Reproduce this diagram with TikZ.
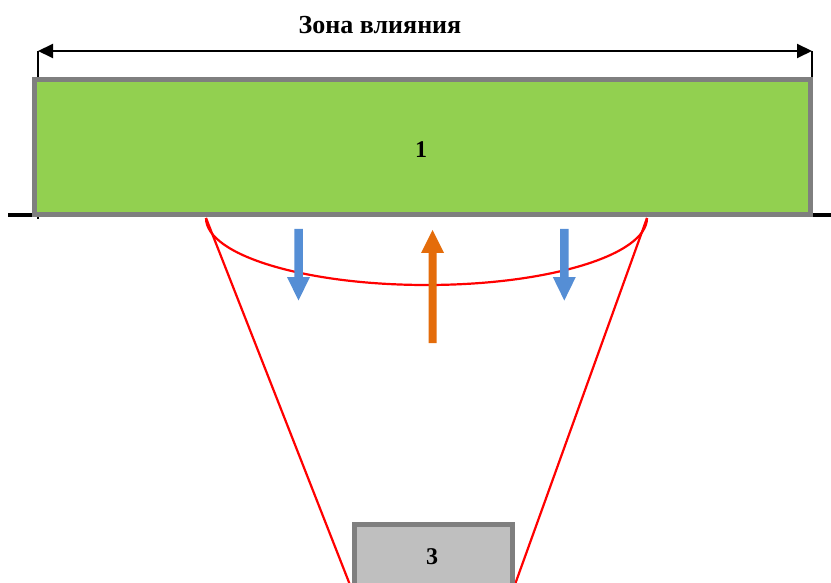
\documentclass[tikz,border=0pt]{standalone}
\usepackage{fontspec}
\setmainfont{Liberation Serif}
\usetikzlibrary{arrows.meta}
\definecolor{grn}{HTML}{92D050}
\definecolor{gry}{HTML}{7F7F7F}
\definecolor{lgry}{HTML}{BFBFBF}
\definecolor{blu}{HTML}{558ED5}
\definecolor{org}{HTML}{E46C0A}
\begin{document}
\begin{tikzpicture}[x=1pt,y=-1pt,
  block/.style={draw=gry, line width=5pt, inner sep=0pt, outer sep=0pt},
  lbl/.style={font=\bfseries\fontsize{24}{24}\selectfont, inner sep=0pt},
  redline/.style={draw=red, line width=2.2pt},
  dimline/.style={line width=2pt, {Triangle[length=15pt,width=14pt]}-{Triangle[length=15pt,width=14pt]}}]
\useasboundingbox (0,0) rectangle (831,583);
\clip (0,0) rectangle (831,583);
% coordinates
\coordinate (dl) at (38,51);
\coordinate (dr) at (812,51);
\coordinate (dlb) at (38,219);
\coordinate (drb) at (812,79);
\coordinate (gl) at (8,215.5);
\coordinate (gr) at (831,215.5);
\coordinate (eL) at (206,218);
\coordinate (eR) at (647,218);
\coordinate (bl) at (352,590);
\coordinate (br) at (513,590);
% title and dimension
\node[font=\bfseries\fontsize{26}{26}\selectfont, inner sep=0pt] (title) at (380,25) {Зона влияния};
\draw[line width=1.5pt] (dl) -- (dlb);
\draw[line width=1.5pt] (dr) -- (drb);
\draw[dimline] (dl) -- (dr);
% ground
\draw[line width=4pt] (gl) -- (gr);
% block 1
\node[block, fill=grn, minimum width=776pt, minimum height=135pt] (r1) at (422,147) {};
\node[lbl] (t1) at (421,150) {1};
% red cone
\draw[redline] (eL) -- (bl);
\draw[redline] (eR) -- (br);
\draw[redline] (eL) arc[start angle=180, end angle=360, x radius=220.5pt, y radius=67pt];
% block 3
\node[block, fill=lgry, minimum width=158.5pt, minimum height=120pt, anchor=north] (r3) at (433.25,524.5) {};
\node[lbl] (t3) at (432,557) {3};
% blue arrows
\fill[blu] (298.5,229) ++(-4.25,0) -- ++(8.5,0) -- ++(0,48) -- ++(7.25,0) -- ++(-11.5,23.5) -- ++(-11.5,-23.5) -- ++(7.25,0) -- cycle;
\fill[blu] (564.3,229) ++(-4.25,0) -- ++(8.5,0) -- ++(0,48) -- ++(7.25,0) -- ++(-11.5,23.5) -- ++(-11.5,-23.5) -- ++(7.25,0) -- cycle;
% orange arrow
\fill[org] (432.5,343) ++(-4,0) -- ++(8,0) -- ++(0,-90) -- ++(7.5,0) -- ++(-11.5,-23) -- ++(-11.5,23) -- ++(7.5,0) -- cycle;
\end{tikzpicture}
\end{document}
